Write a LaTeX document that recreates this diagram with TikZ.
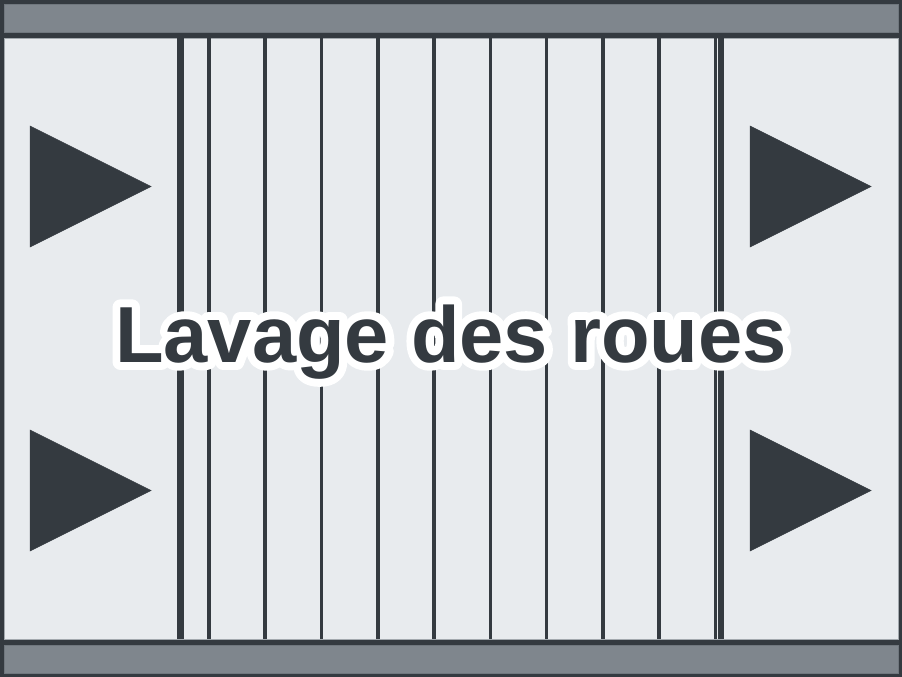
\documentclass[tikz,border=0pt]{standalone}
\usepackage{fontspec}
\setmainfont{Liberation Sans}
\newfontfamily\halofont{Liberation Sans Bold}[FakeBold=20]
\newfontfamily\titlefont{Liberation Sans Bold}
\definecolor{darkc}{HTML}{343A40}
\definecolor{barc}{HTML}{7F868D}
\definecolor{lightc}{HTML}{E8EBEE}
\definecolor{edgec}{HTML}{A3A9AE}
\tikzset{
  slat/.style={draw=darkc, line width=3.6pt},
  divider/.style={fill=darkc},
  arrowtri/.style={fill=darkc, draw=darkc, line width=0.5pt},
  titletext/.style={anchor=base, inner sep=0pt, font=\fontsize{79.5}{90}\selectfont},
}
\begin{document}
\begin{tikzpicture}[x=1pt,y=-1pt]
\useasboundingbox (0,0) rectangle (902,677);
\fill[darkc] (0,0) rectangle (902,677);
\filldraw[fill=barc, draw=barc!80!darkc, line width=0.8pt] (4,4) rectangle (898,32);
\filldraw[fill=barc, draw=barc!80!darkc, line width=0.8pt] (4,645) rectangle (898,673);
\filldraw[fill=lightc, draw=edgec, line width=0.8pt] (4,38) rectangle (898,639);
% slats
\foreach \i in {0,...,9} {
  \draw[slat] ({209+\i*56.28},38) -- ({209+\i*56.28},639);
}
% dividers
\fill[divider] (177,38) rectangle (184,639);
\fill[divider] (718,38) rectangle (724,639);
% direction triangles
\filldraw[arrowtri] (30,126) -- (30,247) -- (151,186.5) -- cycle;
\filldraw[arrowtri] (30,430) -- (30,551) -- (151,490.5) -- cycle;
\filldraw[arrowtri] (750,126) -- (750,247) -- (871,186.5) -- cycle;
\filldraw[arrowtri] (750,430) -- (750,551) -- (871,490.5) -- cycle;
% title
\begin{scope}[line join=round, line cap=round]
\node[titletext, text=white] (halo) at (451,362) {\halofont Lavage des roues};
\end{scope}
\node[titletext, text=darkc] (title) at (451,362) {\titlefont Lavage des roues};
\end{tikzpicture}
\end{document}
